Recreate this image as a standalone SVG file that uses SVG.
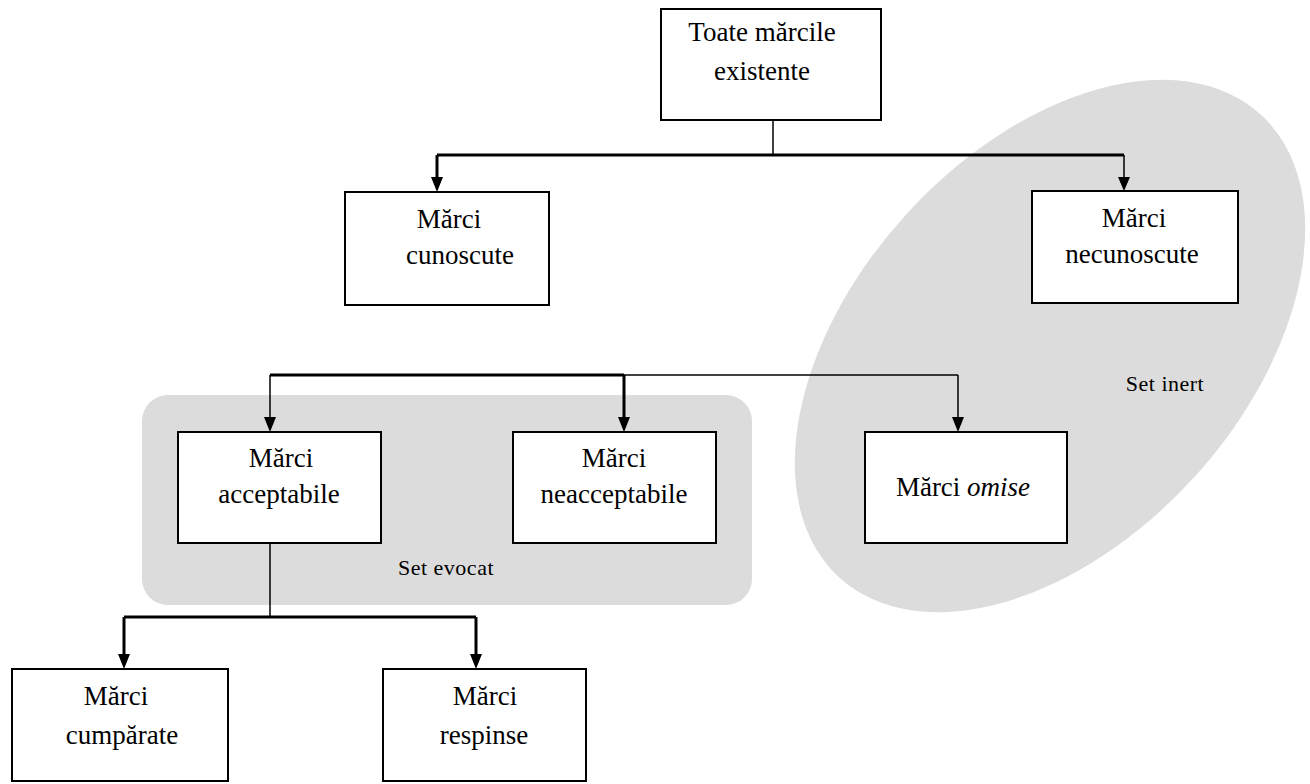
<svg xmlns="http://www.w3.org/2000/svg" width="1310" height="784" viewBox="0 0 1310 784">
<style>
.box{fill:#fff;stroke:#000;stroke-width:2}
.t{font-family:"Liberation Serif","Times New Roman",serif;font-size:27px;text-anchor:middle;fill:#000}
.s{font-family:"Liberation Serif","Times New Roman",serif;font-size:22px;letter-spacing:0.5px;text-anchor:middle;fill:#000}
.thick{stroke:#000;stroke-width:3;fill:none}
.thin{stroke:#000;stroke-width:1.5;fill:none}
.ah{fill:#000}
</style>
<rect width="1310" height="784" fill="#fff"/>
<g id="set-inert">
<ellipse cx="1050" cy="346" rx="313" ry="195" transform="rotate(-47.75 1050 346)" fill="#dcdcdc"/>
<text class="s" x="1165" y="391">Set inert</text>
</g>
<g id="set-evocat">
<rect x="142" y="395" width="610" height="210" rx="26" fill="#dcdcdc"/>
<text class="s" x="446" y="575">Set evocat</text>
</g>
<g id="connectors">
<path class="thin" d="M773 120V155"/>
<path class="thick" d="M437 155H1124"/>
<path class="thick" d="M437 155V178"/>
<path class="thin" d="M1124 155V178"/>
<polygon class="ah" points="431,177 443,177 437,192"/>
<polygon class="ah" points="1118,177 1130,177 1124,191"/>
<path class="thick" d="M270 375H624"/>
<path class="thin" d="M624 375H958"/>
<path class="thin" d="M270 375V418"/>
<path class="thick" d="M624 375V418"/>
<path class="thin" d="M958 375V418"/>
<polygon class="ah" points="264,417 276,417 270,432"/>
<polygon class="ah" points="618,417 630,417 624,432"/>
<polygon class="ah" points="952,417 964,417 958,432"/>
<path class="thin" d="M270 543V617"/>
<path class="thick" d="M124 617H476"/>
<path class="thick" d="M124 617V655"/>
<path class="thick" d="M476 617V655"/>
<polygon class="ah" points="118,654 130,654 124,669"/>
<polygon class="ah" points="470,654 482,654 476,669"/>
</g>
<g id="toate">
<rect class="box" x="661" y="9" width="220" height="111"/>
<text class="t" x="762" y="41">Toate mărcile</text>
<text class="t" x="762" y="80">existente</text>
</g>
<g id="cunoscute">
<rect class="box" x="345" y="192" width="204" height="113"/>
<text class="t" x="449" y="228">Mărci</text>
<text class="t" x="460" y="264">cunoscute</text>
</g>
<g id="necunoscute">
<rect class="box" x="1032" y="191" width="206" height="112"/>
<text class="t" x="1134" y="227">Mărci</text>
<text class="t" x="1132" y="263">necunoscute</text>
</g>
<g id="acceptabile">
<rect class="box" x="178" y="432" width="203" height="111"/>
<text class="t" x="281" y="467">Mărci</text>
<text class="t" x="279" y="503">acceptabile</text>
</g>
<g id="neacceptabile">
<rect class="box" x="513" y="432" width="203" height="111"/>
<text class="t" x="614" y="467">Mărci</text>
<text class="t" x="614" y="503">neacceptabile</text>
</g>
<g id="omise">
<rect class="box" x="865" y="432" width="202" height="111"/>
<text class="t" x="963" y="496">Mărci <tspan font-style="italic">omise</tspan></text>
</g>
<g id="cumparate">
<rect class="box" x="12" y="669" width="216" height="112"/>
<text class="t" x="116" y="705">Mărci</text>
<text class="t" x="122" y="744">cumpărate</text>
</g>
<g id="respinse">
<rect class="box" x="383" y="669" width="203" height="112"/>
<text class="t" x="485" y="705">Mărci</text>
<text class="t" x="484" y="744">respinse</text>
</g>
</svg>
